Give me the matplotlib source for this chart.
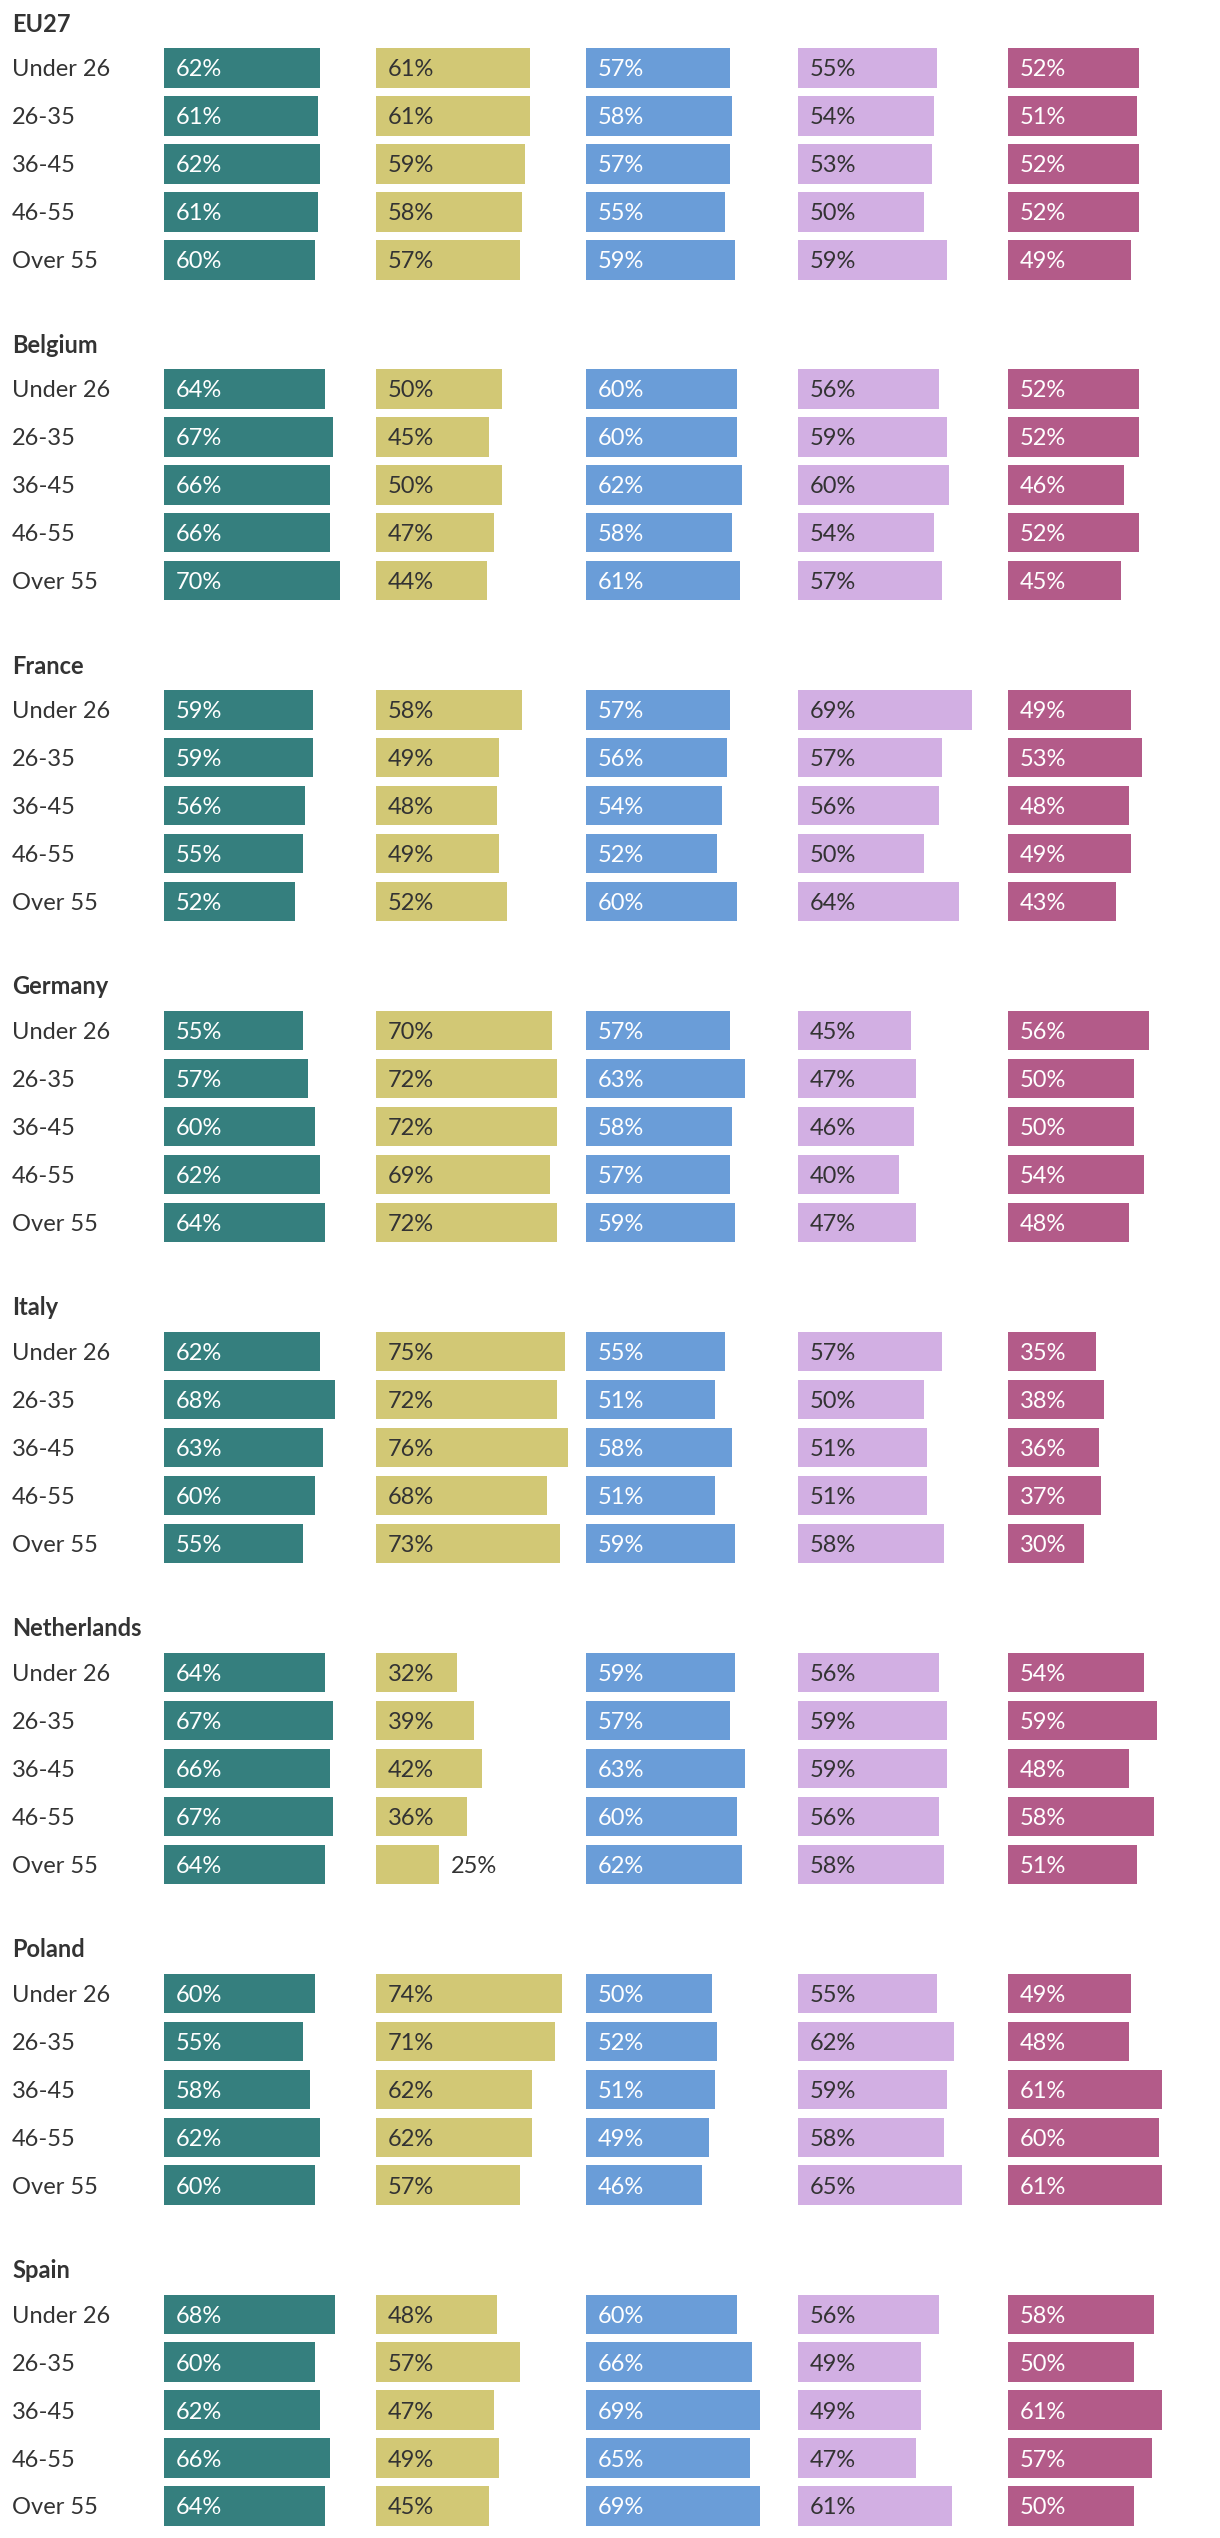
import matplotlib
matplotlib.use("Agg")
import matplotlib.pyplot as plt

plt.rcParams['font.family'] = ['Lato', 'DejaVu Sans']

countries = ["EU27", "Belgium", "France", "Germany", "Italy", "Netherlands", "Poland", "Spain"]
age_groups = ["Under 26", "26-35", "36-45", "46-55", "Over 55"]

# each country: rows = age groups, columns = five series
eu27 = [[62, 61, 57, 55, 52], [61, 61, 58, 54, 51], [62, 59, 57, 53, 52], [61, 58, 55, 50, 52], [60, 57, 59, 59, 49]]
belgium = [[64, 50, 60, 56, 52], [67, 45, 60, 59, 52], [66, 50, 62, 60, 46], [66, 47, 58, 54, 52], [70, 44, 61, 57, 45]]
france = [[59, 58, 57, 69, 49], [59, 49, 56, 57, 53], [56, 48, 54, 56, 48], [55, 49, 52, 50, 49], [52, 52, 60, 64, 43]]
germany = [[55, 70, 57, 45, 56], [57, 72, 63, 47, 50], [60, 72, 58, 46, 50], [62, 69, 57, 40, 54], [64, 72, 59, 47, 48]]
italy = [[62, 75, 55, 57, 35], [68, 72, 51, 50, 38], [63, 76, 58, 51, 36], [60, 68, 51, 51, 37], [55, 73, 59, 58, 30]]
netherlands = [[64, 32, 59, 56, 54], [67, 39, 57, 59, 59], [66, 42, 63, 59, 48], [67, 36, 60, 56, 58], [64, 25, 62, 58, 51]]
poland = [[60, 74, 50, 55, 49], [55, 71, 52, 62, 48], [58, 62, 51, 59, 61], [62, 62, 49, 58, 60], [60, 57, 46, 65, 61]]
spain = [[68, 48, 60, 56, 58], [60, 57, 66, 49, 50], [62, 47, 69, 49, 61], [66, 49, 65, 47, 57], [64, 45, 69, 61, 50]]

country_data = [eu27, belgium, france, germany, italy, netherlands, poland, spain]

series_colors = ["#357f7e", "#d2c875", "#6a9dd8", "#d2afe3", "#b35b89"]
label_colors = ["white", "#333333", "white", "#333333", "white"]

W, H = 1220, 2538
DPI = 100
fig = plt.figure(figsize=(W / DPI, H / DPI), dpi=DPI)

TEXT = "#333333"
FS = 17
PX_PER_PCT = 2.52
col_left = [164, 376, 586, 798, 1008]
ax_w_px = 205
group_pitch = 320.9
row_pitch = 47.95
first_row_center = 68.0
title_baseline = 31.7
cap_half = 8.4
bar_h = 39.5 / row_pitch
label_pad_pt = 12 * 72 / DPI
base_off_pt = -cap_half * 72 / DPI

for g, (name, data) in enumerate(zip(countries, country_data)):
    gy = g * group_pitch
    fig.text(12 / W, 1 - (title_baseline + gy) / H, name, fontsize=FS, fontweight="bold",
             color=TEXT, ha="left", va="baseline")
    for r, lab in enumerate(age_groups):
        yc = first_row_center + gy + r * row_pitch
        fig.text(12 / W, 1 - (yc + cap_half) / H, lab, fontsize=FS, color=TEXT,
                 ha="left", va="baseline")
    top_px = first_row_center + gy - row_pitch / 2
    for c in range(5):
        ax = fig.add_axes([col_left[c] / W, 1 - (top_px + 5 * row_pitch) / H,
                           ax_w_px / W, 5 * row_pitch / H])
        vals = [row[c] for row in data]
        ax.barh(range(5), vals, height=bar_h, color=series_colors[c], linewidth=0)
        ax.set_xlim(0, ax_w_px / PX_PER_PCT)
        ax.set_ylim(4.5, -0.5)
        ax.axis("off")
        for r, v in enumerate(vals):
            inside = v >= 30
            ax.annotate(f"{v}%", xy=(0 if inside else v, r),
                        xytext=(label_pad_pt, base_off_pt),
                        textcoords="offset points", va="baseline", ha="left",
                        fontsize=FS, color=label_colors[c] if inside else TEXT)

fig.savefig("out.png", dpi=DPI, facecolor="white")
